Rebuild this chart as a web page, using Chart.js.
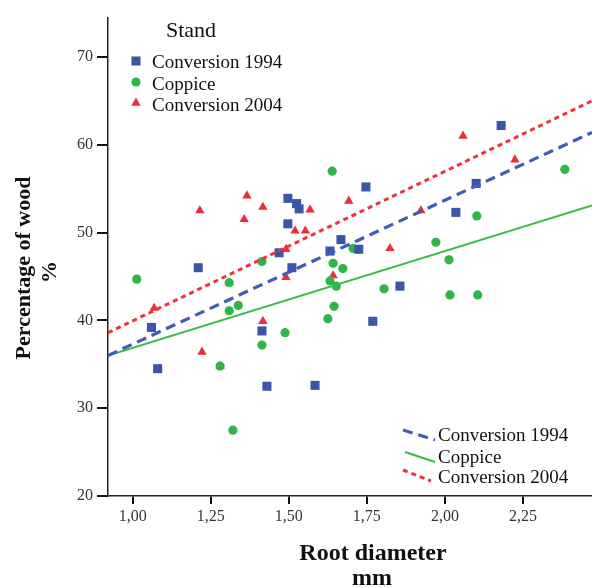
<!DOCTYPE html>
<html><head><meta charset="utf-8">
<script src="https://cdn.jsdelivr.net/npm/chart.js@4.4.1/dist/chart.umd.min.js"></script>
<style>html,body{margin:0;padding:0;background:#fff;overflow:hidden}</style>
</head><body>
<canvas id="c" width="592" height="588" style="display:block;width:592px;height:588px"></canvas>
<script>
// ---- data ----
const seriesNames = ['Conversion 1994', 'Coppice', 'Conversion 2004'];
const legendTitle = 'Stand';
const xTitle = ['Root diameter', 'mm'];
const yTitle = ['Percentage of wood', '%'];

const conv1994X = [1.06, 1.08, 1.21, 1.414, 1.43, 1.469, 1.497, 1.497, 1.51, 1.525, 1.533, 1.584, 1.632, 1.667, 1.724, 1.747, 1.769, 1.856, 2.035, 2.10, 2.18];
const conv1994Y = [39.2, 34.5, 46.0, 38.8, 32.5, 47.7, 53.9, 51.0, 46.0, 53.3, 52.7, 32.6, 47.9, 49.2, 48.1, 55.2, 39.9, 43.9, 52.3, 55.6, 62.2];

const coppiceX = [1.013, 1.28, 1.309, 1.309, 1.321, 1.338, 1.414, 1.414, 1.488, 1.625, 1.632, 1.639, 1.642, 1.645, 1.652, 1.673, 1.706, 1.805, 1.971, 2.013, 2.016, 2.102, 2.105, 2.384];
const coppiceY = [44.7, 34.8, 44.3, 41.1, 27.5, 41.7, 46.7, 37.2, 38.6, 40.2, 44.5, 57.0, 46.5, 41.6, 43.9, 45.9, 48.2, 43.6, 48.9, 46.9, 42.9, 51.9, 42.9, 57.2];

const conv2004X = [1.069, 1.215, 1.222, 1.28, 1.309, 1.357, 1.366, 1.417, 1.417, 1.491, 1.491, 1.52, 1.553, 1.568, 1.642, 1.692, 1.824, 1.923, 2.058, 2.224];
const conv2004Y = [41.4, 52.5, 36.4, 34.8, 44.3, 51.5, 54.2, 52.9, 39.9, 48.1, 44.9, 50.2, 50.2, 52.6, 45.1, 53.6, 48.2, 52.5, 61.0, 58.3];

// fitted regression lines (end values)
const fitX = [0.921, 2.471];
const fit1994 = [36.0, 61.4];
const fitCoppice = [36.0, 53.1];
const fit2004 = [38.6, 65.0];

const xTicks = [1.00, 1.25, 1.50, 1.75, 2.00, 2.25];
const yTicks = [20, 30, 40, 50, 60, 70];

// ---- styles ----
const BLUE = '#3b55a9', GREEN = '#2fb54a', RED = '#ec2e38';
const LBLUE = '#3f5cb6', LGREEN = '#3dbb4f', LRED = '#f0323c';
const SERIF = '"Liberation Serif", "DejaVu Serif", serif';
const markerStyle = [
  {style: 'rect', radius: 6.4, color: BLUE},
  {style: 'circle', radius: 4.6, color: GREEN},
  {style: 'triangle', radius: 5.4, color: RED}
];
const lineStyle = [
  {color: LBLUE, width: 3.2, dash: [10, 6]},
  {color: LGREEN, width: 2, dash: []},
  {color: LRED, width: 3, dash: [5, 4]}
];

const zip = (xs, ys) => xs.map((x, i) => ({x, y: ys[i]}));
const pointSets = [zip(conv1994X, conv1994Y), zip(coppiceX, coppiceY), zip(conv2004X, conv2004Y)];
const fitSets = [zip(fitX, fit1994), zip(fitX, fitCoppice), zip(fitX, fit2004)];

const datasets = [];
fitSets.forEach((d, i) => datasets.push({
  label: seriesNames[i] + ' fit', data: d, showLine: true, pointRadius: 0, pointHoverRadius: 0,
  borderColor: lineStyle[i].color, borderWidth: lineStyle[i].width, borderDash: lineStyle[i].dash,
  borderCapStyle: 'butt', fill: false, order: 0
}));
pointSets.forEach((d, i) => datasets.push({
  label: seriesNames[i], data: d, showLine: false,
  pointStyle: markerStyle[i].style, pointRadius: markerStyle[i].radius,
  pointBackgroundColor: markerStyle[i].color, pointBorderColor: markerStyle[i].color,
  pointBorderWidth: 0, order: 1
}));

function drawMarker(ctx, m, x, y) {
  ctx.fillStyle = m.color;
  ctx.beginPath();
  if (m.style === 'rect') {
    const s = m.radius / Math.SQRT2;
    ctx.rect(x - s, y - s, 2 * s, 2 * s);
  } else if (m.style === 'circle') {
    ctx.arc(x, y, m.radius, 0, Math.PI * 2);
  } else {
    const r = m.radius;
    ctx.moveTo(x, y - r);
    ctx.lineTo(x + r * Math.cos(Math.PI / 6), y + r / 2);
    ctx.lineTo(x - r * Math.cos(Math.PI / 6), y + r / 2);
    ctx.closePath();
  }
  ctx.fill();
}

const annotations = {
  id: 'annotations',
  afterDraw(chart) {
    const ctx = chart.ctx;
    ctx.save();
    ctx.fillStyle = '#111';
    // y title
    ctx.font = 'bold 22px ' + SERIF;
    ctx.textAlign = 'center';
    ctx.textBaseline = 'middle';
    ctx.save(); ctx.translate(24, 268); ctx.rotate(-Math.PI / 2); ctx.fillText(yTitle[0], 0, 0); ctx.restore();
    ctx.save(); ctx.translate(50, 272); ctx.rotate(-Math.PI / 2); ctx.fillText(yTitle[1], 0, 0); ctx.restore();
    // x title
    ctx.font = 'bold 24px ' + SERIF;
    ctx.textBaseline = 'alphabetic';
    ctx.fillText(xTitle[0], 373, 560);
    ctx.fillText(xTitle[1], 372, 585);
    // top legend
    ctx.textAlign = 'left';
    ctx.font = '22px ' + SERIF;
    ctx.fillStyle = '#111';
    ctx.fillText(legendTitle, 166, 37);
    ctx.font = '19px ' + SERIF;
    const my = [61, 82, 103], by = [68, 89.5, 110.5];
    for (let i = 0; i < 3; i++) {
      drawMarker(ctx, markerStyle[i], 136, my[i]);
      ctx.fillStyle = '#111';
      ctx.fillText(seriesNames[i], 152, by[i]);
    }
    // bottom legend (line samples)
    const segs = [[403, 430, 435, 440], [405, 452, 435, 462], [403, 470, 431, 481]];
    const tb = [441, 463, 483];
    for (let i = 0; i < 3; i++) {
      const s = segs[i];
      ctx.strokeStyle = lineStyle[i].color;
      ctx.lineWidth = lineStyle[i].width;
      ctx.setLineDash(lineStyle[i].dash);
      ctx.lineCap = 'butt';
      ctx.beginPath(); ctx.moveTo(s[0], s[1]); ctx.lineTo(s[2], s[3]); ctx.stroke();
      ctx.setLineDash([]);
      ctx.fillStyle = '#111';
      ctx.fillText(seriesNames[i], 438, tb[i]);
    }
    ctx.restore();
  }
};

const fmtComma = v => Number(v).toFixed(2).replace('.', ',');

new Chart(document.getElementById('c'), {
  type: 'scatter',
  data: {datasets},
  options: {
    responsive: false, animation: false, devicePixelRatio: 1,
    layout: {autoPadding: false, padding: {top: 18, right: 0, left: 0, bottom: 0}},
    plugins: {legend: {display: false}, tooltip: {enabled: false}},
    scales: {
      x: {
        type: 'linear', min: 0.921, max: 2.471,
        afterBuildTicks: s => { s.ticks = xTicks.map(v => ({value: v})); },
        afterFit: s => { s.height = 92; s.paddingLeft = 0; s.paddingRight = 0; },
        grid: {drawOnChartArea: false, drawTicks: true, tickLength: 8, color: '#111', lineWidth: 2},
        border: {display: true, color: '#222', width: 1.5},
        ticks: {callback: v => fmtComma(v), font: {family: SERIF, size: 16}, color: '#333', padding: 3, maxRotation: 0, autoSkip: false}
      },
      y: {
        type: 'linear', min: 20, max: 74.44,
        afterBuildTicks: s => { s.ticks = yTicks.map(v => ({value: v})); },
        afterFit: s => { s.width = 108; s.paddingTop = 0; s.paddingBottom = 0; },
        grid: {drawOnChartArea: false, drawTicks: true, tickLength: 11, color: '#111', lineWidth: 2},
        border: {display: true, color: '#222', width: 1.5},
        ticks: {callback: v => String(v), font: {family: SERIF, size: 16}, color: '#333', padding: 4, autoSkip: false}
      }
    }
  },
  plugins: [annotations]
});
</script>
</body></html>
